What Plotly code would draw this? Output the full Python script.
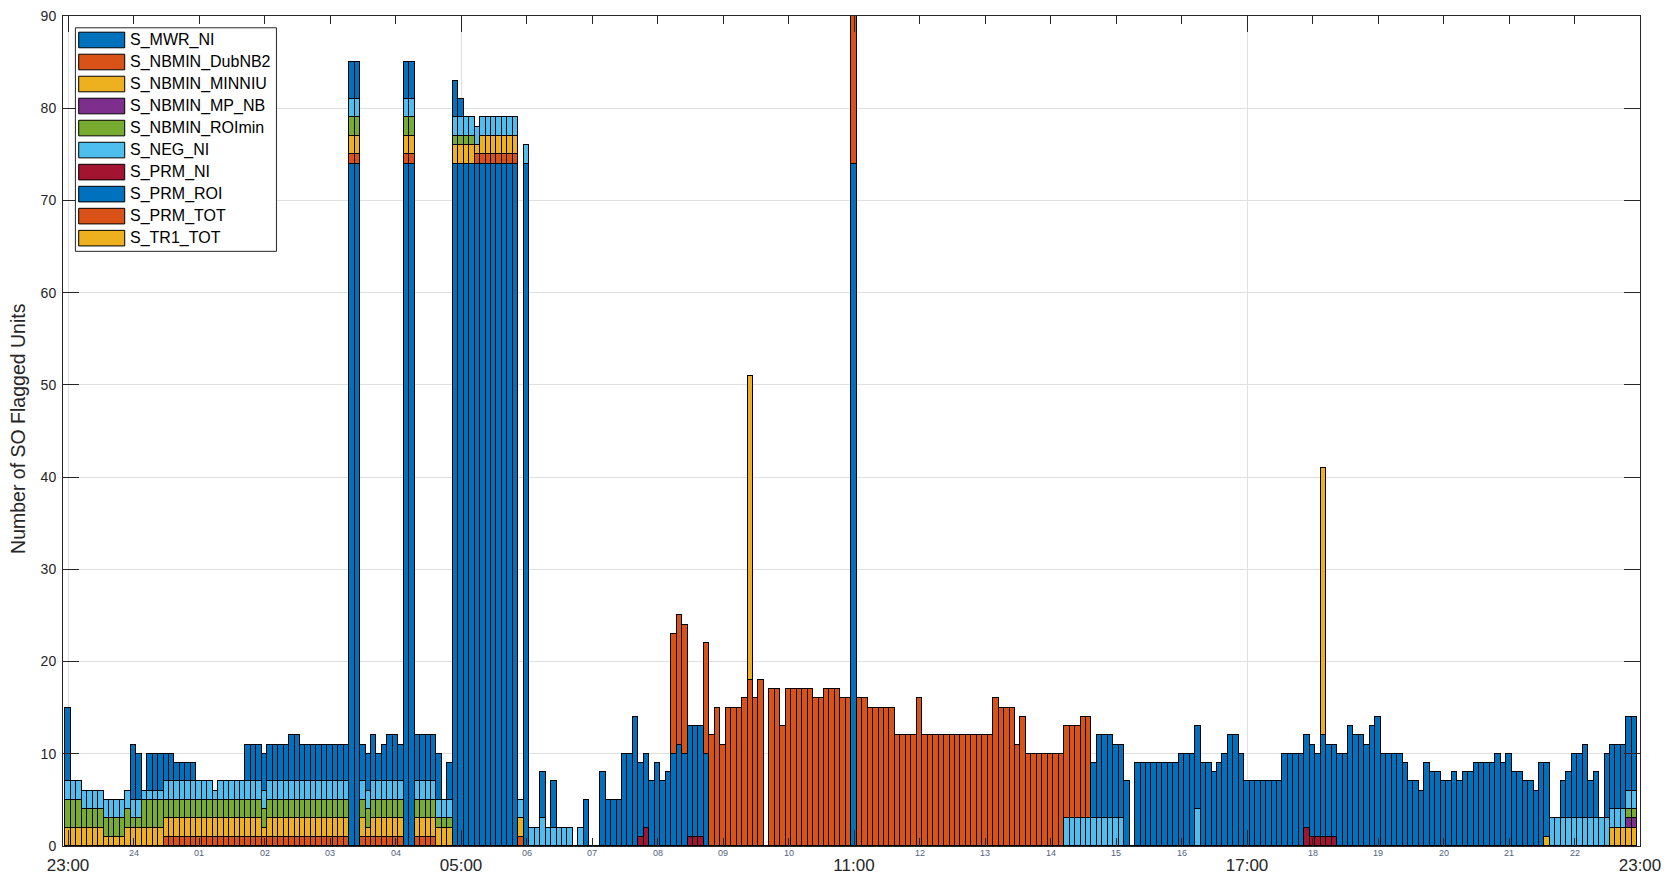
import plotly.graph_objects as go

# ---------------- data (one row = one hour, 12 bars of 5 min, first bar 23:00) ----------------
series_names = ["S_MWR_NI", "S_NBMIN_DubNB2", "S_NBMIN_MINNIU", "S_NBMIN_MP_NB", "S_NBMIN_ROImin",
                "S_NEG_NI", "S_PRM_NI", "S_PRM_ROI", "S_PRM_TOT", "S_TR1_TOT"]
series_colors = ["#0072BD", "#D95319", "#EDB120", "#7E2F8E", "#77AC30",
                 "#4DBEEE", "#A2142F", "#0072BD", "#D95319", "#EDB120"]

Z = [0] * 12

S_MWR_NI = (Z * 4 +
    [0, 0, 0, 0, 74, 74, 0, 0, 0, 0, 0, 0] +
    [0, 0, 74, 74, 0, 0, 0, 0, 0, 0, 0, 74] +
    [74, 74, 74, 74, 74, 74, 74, 74, 74, 74, 74, 0] +
    [74, 0, 0, 0, 0, 0, 0, 0, 0, 0, 0, 0] +
    Z * 16)

S_NBMIN_DubNB2 = (Z +
    [0, 0, 0, 0, 0, 0, 1, 1, 1, 1, 1, 1] +
    [1, 1, 1, 1, 1, 1, 1, 1, 1, 1, 1, 1] +
    [1, 1, 1, 1, 1, 1, 1, 1, 1, 1, 1, 1] +
    [1, 1, 1, 1, 1, 1, 1, 1, 1, 1, 1, 1] +
    [1, 1, 1, 1, 1, 1, 1, 1, 0, 0, 0, 0] +
    [0, 0, 0, 1, 1, 1, 1, 1, 1, 1, 1, 1] +
    Z * 17)

S_NBMIN_MINNIU = (
    [2, 2, 2, 2, 2, 2, 2, 1, 1, 1, 1, 2] +
    [2, 2, 2, 2, 2, 2, 2, 2, 2, 2, 2, 2] +
    [2, 2, 2, 2, 2, 2, 2, 2, 2, 2, 2, 2] +
    [1, 2, 2, 2, 2, 2, 2, 2, 2, 2, 2, 2] +
    [2, 2, 2, 2, 2, 2, 2, 1, 2, 2, 2, 2] +
    [2, 2, 2, 2, 2, 2, 2, 2, 2, 2, 2, 2] +
    [2, 2, 2, 1, 2, 2, 2, 2, 2, 2, 2, 2] +
    Z * 15 +
    [0, 0, 0, 0, 0, 0, 0, 1, 0, 0, 0, 0] +
    [0, 0, 0, 0, 0, 0, 0, 2, 2, 2, 2, 2])

S_NBMIN_MP_NB = (Z * 23 +
    [0, 0, 0, 0, 0, 0, 0, 0, 0, 0, 1, 1])

S_NBMIN_ROImin = (
    [3, 3, 3, 2, 2, 2, 2, 2, 2, 2, 2, 2] +
    [1, 1, 3, 3, 3, 3, 2, 2, 2, 2, 2, 2] +
    [2, 2, 2, 2, 2, 2, 2, 2, 2, 2, 2, 2] +
    [2, 2, 2, 2, 2, 2, 2, 2, 2, 2, 2, 2] +
    [2, 2, 2, 2, 2, 2, 2, 2, 2, 2, 2, 2] +
    [2, 2, 2, 2, 2, 2, 2, 2, 1, 1, 1, 1] +
    [1, 1, 1, 0, 0, 0, 0, 0, 0, 0, 0, 0] +
    Z * 16 +
    [0, 0, 0, 0, 0, 0, 0, 0, 0, 0, 1, 1])

S_NEG_NI = (
    [2, 2, 2, 2, 2, 2, 2, 2, 2, 2, 2, 2] +
    [2, 2, 1, 1, 1, 1, 2, 2, 2, 2, 2, 2] +
    [2, 2, 2, 1, 2, 2, 2, 2, 2, 2, 2, 2] +
    [2, 2, 2, 2, 2, 2, 2, 2, 2, 2, 2, 2] +
    [2, 2, 2, 2, 2, 2, 2, 2, 2, 2, 2, 2] +
    [2, 2, 2, 2, 2, 2, 2, 2, 2, 2, 2, 2] +
    [2, 2, 2, 2, 2, 2, 2, 2, 2, 2, 2, 2] +
    [2, 2, 2, 3, 2, 2, 2, 2, 2, 0, 2, 0] +
    Z * 7 +
    [0, 0, 0, 3, 3, 3, 3, 3, 3, 3, 3, 3] +
    [3, 3, 0, 0, 0, 0, 0, 0, 0, 0, 0, 0] +
    [0, 0, 0, 4, 0, 0, 0, 0, 0, 0, 0, 0] +
    Z * 4 +
    [0, 0, 0, 0, 0, 0, 0, 0, 3, 3, 3, 3] +
    [3, 3, 3, 3, 3, 3, 3, 2, 2, 2, 2, 2])

S_PRM_NI = (Z * 8 +
    [0, 0, 0, 0, 0, 0, 0, 0, 0, 1, 2, 0] +
    [0, 0, 0, 0, 0, 0, 1, 1, 1, 0, 0, 0] +
    Z * 8 +
    [0, 0, 0, 0, 0, 0, 0, 0, 0, 0, 0, 2] +
    [1, 1, 1, 1, 1, 0, 0, 0, 0, 0, 0, 0] +
    Z * 4)

S_PRM_ROI = (
    [8, 0, 0, 0, 0, 0, 0, 0, 0, 0, 0, 0] +
    [6, 5, 0, 4, 4, 4, 3, 3, 2, 2, 2, 2] +
    [0, 0, 0, 0, 0, 0, 0, 0, 0, 4, 4, 4] +
    [4, 4, 4, 4, 4, 5, 5, 4, 4, 4, 4, 4] +
    [4, 4, 4, 4, 4, 4, 4, 4, 5, 3, 4, 5] +
    [5, 4, 4, 4, 5, 5, 5, 5, 5, 0, 4, 4] +
    [2, 0, 0, 0, 0, 0, 0, 0, 0, 0, 0, 0] +
    [0, 0, 0, 5, 0, 5, 0, 0, 0, 0, 0, 5] +
    [0, 0, 8, 5, 5, 5, 10, 10, 14, 8, 8, 7] +
    [9, 7, 8, 10, 11, 10, 12, 12, 12, 10, 0, 0] +
    Z * 2 +
    [74, 0, 0, 0, 0, 0, 0, 0, 0, 0, 0, 0] +
    Z * 2 +
    [0, 0, 0, 0, 0, 0, 0, 0, 6, 9, 9, 9] +
    [8, 8, 7, 0, 9, 9, 9, 9, 9, 9, 9, 9] +
    [10, 10, 10, 9, 9, 9, 8, 9, 10, 12, 12, 10] +
    [7, 7, 7, 7, 7, 7, 7, 10, 10, 10, 10, 10] +
    [10, 9, 11, 10, 10, 10, 10, 13, 12, 12, 11, 13] +
    [14, 10, 10, 10, 10, 9, 7, 7, 6, 9, 8, 8] +
    [7, 7, 8, 7, 8, 8, 9, 9, 9, 9, 10, 9] +
    [10, 8, 8, 7, 7, 6, 9, 8, 0, 0, 4, 5] +
    [7, 7, 8, 4, 5, 0, 7, 7, 7, 7, 8, 8])

S_PRM_TOT = (Z * 9 +
    [0, 0, 0, 13, 14, 14, 0, 0, 0, 12, 12, 15] +
    [11, 15, 15, 15, 16, 18, 16, 18, 0, 17, 17, 13] +
    [17, 17, 17, 17, 17, 16, 16, 17, 17, 17, 16, 16] +
    [18, 16, 16, 15, 15, 15, 15, 15, 12, 12, 12, 12] +
    [16, 12, 12, 12, 12, 12, 12, 12, 12, 12, 12, 12] +
    [12, 12, 16, 15, 15, 15, 11, 14, 10, 10, 10, 10] +
    [10, 10, 10, 10, 10, 10, 11, 11, 0, 0, 0, 0] +
    Z * 8)

S_TR1_TOT = (Z * 10 +
    [0, 0, 0, 0, 0, 33, 0, 0, 0, 0, 0, 0] +
    Z * 8 +
    [0, 0, 29, 0, 0, 0, 0, 0, 0, 0, 0, 0] +
    Z * 4)

series_values = [S_MWR_NI, S_NBMIN_DubNB2, S_NBMIN_MINNIU, S_NBMIN_MP_NB, S_NBMIN_ROImin,
                 S_NEG_NI, S_PRM_NI, S_PRM_ROI, S_PRM_TOT, S_TR1_TOT]

bar_minutes = [5 * i for i in range(len(S_PRM_ROI))]   # minutes after 23:00
major_tick_minutes = [0, 360, 720, 1080, 1440]
major_tick_labels = ["23:00", "05:00", "11:00", "17:00", "23:00"]
hour_label_minutes = [60, 120, 180, 240, 300, 420, 480, 540, 600, 660, 780, 840, 900, 960, 1020,
                      1140, 1200, 1260, 1320, 1380]
hour_labels = ["24", "01", "02", "03", "04", "06", "07", "08", "09", "10", "12", "13", "14", "15", "16",
               "18", "19", "20", "21", "22"]
y_ticks = [0, 10, 20, 30, 40, 50, 60, 70, 80, 90]

# ---------------- layout geometry (screen pixels; page body has an 8px margin) ----------------
OFF = 8
W, H = 1678 - OFF, 877 - OFF
SL, SR, ST, SB = 63.3, 1640.0, 15.5, 846.0      # plot area on screen
PL, PR, PT, PB = SL - OFF, SR - OFF, ST - OFF, SB - OFF
FONT = "Liberation Sans, Arial, Helvetica, sans-serif"
AXC = "#262626"


def fx(sx):
    return (sx - SL) / (SR - SL)


def fy(sy):
    return (SB - sy) / (SB - ST)


fig = go.Figure()
for name, vals, col in zip(series_names, series_values, series_colors):
    fig.add_trace(go.Bar(
        x=bar_minutes, y=vals, name=name, width=5,
        marker=dict(color=col, line=dict(color="#000000", width=1)),
        showlegend=False,
    ))

shapes = []
annotations = []

# manual legend (MATLAB style)
shapes.append(dict(type="rect", xref="paper", yref="paper",
                   x0=fx(75.7), x1=fx(276.7), y0=fy(251), y1=fy(27.3),
                   line=dict(color=AXC, width=1), fillcolor="white", layer="above"))
for i, (name, col) in enumerate(zip(series_names, series_colors)):
    cy = 39.5 + 22.03 * i
    shapes.append(dict(type="rect", xref="paper", yref="paper",
                       x0=fx(79), x1=fx(125), y0=fy(cy + 7.8), y1=fy(cy - 7.8),
                       line=dict(color="#000000", width=1), fillcolor=col, layer="above"))
    annotations.append(dict(xref="paper", yref="paper", x=fx(128), y=fy(cy),
                            xanchor="left", yanchor="middle", showarrow=False,
                            text=name, font=dict(family=FONT, size=16, color="#000000")))

# small hour labels
for m, t in zip(hour_label_minutes, hour_labels):
    annotations.append(dict(xref="x", yref="paper", x=m, y=fy(853),
                            xanchor="center", yanchor="middle", showarrow=False,
                            text=t, font=dict(family=FONT, size=9, color="#4f5f7f")))

# y axis title
annotations.append(dict(xref="paper", yref="paper", x=fx(19), y=fy(428),
                        xanchor="center", yanchor="middle", showarrow=False, textangle=-90,
                        text="Number of SO Flagged Units",
                        font=dict(family=FONT, size=19.5, color=AXC)))

fig.update_layout(
    width=W, height=H,
    margin=dict(l=PL, r=W - PR, t=PT, b=H - PB, pad=0, autoexpand=False),
    barmode="stack", bargap=0,
    plot_bgcolor="white", paper_bgcolor="white",
    shapes=shapes, annotations=annotations,
    font=dict(family=FONT, color=AXC),
    xaxis=dict(
        range=[-4.6, 1440], tickmode="array", tickvals=major_tick_minutes, ticktext=major_tick_labels,
        ticks="inside", ticklen=16, tickwidth=1, tickcolor=AXC, ticklabelstandoff=4,
        ticklabeloverflow="allow",
        showline=True, linecolor=AXC, linewidth=1, mirror="ticks",
        showgrid=True, gridcolor="#e0e0e0", gridwidth=1, zeroline=False,
        tickfont=dict(family=FONT, size=17, color=AXC),
        minor=dict(tickmode="array", tickvals=hour_label_minutes, ticks="inside", ticklen=8,
                   tickcolor=AXC, tickwidth=1, showgrid=False),
    ),
    yaxis=dict(
        range=[0, 90], tickmode="array", tickvals=y_ticks,
        ticks="inside", ticklen=16, tickwidth=1, tickcolor=AXC, ticklabelstandoff=3,
        ticklabeloverflow="allow",
        showline=True, linecolor=AXC, linewidth=1, mirror="ticks",
        showgrid=True, gridcolor="#e0e0e0", gridwidth=1, zeroline=False,
        tickfont=dict(family=FONT, size=14, color=AXC),
    ),
)

fig.write_html("out.html")
